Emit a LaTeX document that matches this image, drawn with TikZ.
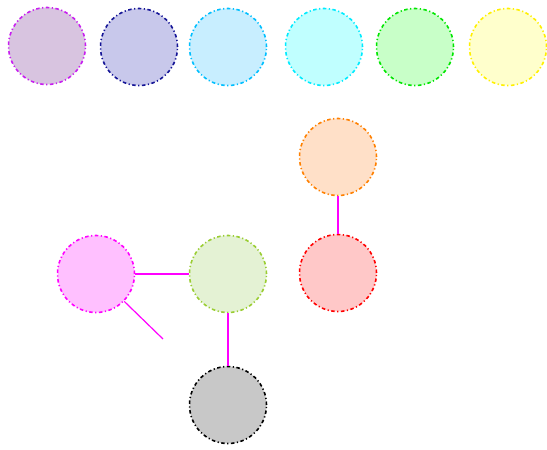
\documentclass[tikz,border=0pt]{standalone}
\definecolor{bA}{RGB}{200,30,240}\definecolor{fA}{RGB}{216,196,224}
\definecolor{bB}{RGB}{20,20,150}\definecolor{fB}{RGB}{200,200,235}
\definecolor{bC}{RGB}{0,191,255}\definecolor{fC}{RGB}{200,238,255}
\definecolor{bD}{RGB}{0,235,255}\definecolor{fD}{RGB}{192,255,255}
\definecolor{bE}{RGB}{0,230,0}\definecolor{fE}{RGB}{200,255,200}
\definecolor{bF}{RGB}{255,240,0}\definecolor{fF}{RGB}{255,255,204}
\definecolor{bG}{RGB}{255,0,255}\definecolor{fG}{RGB}{255,192,255}
\definecolor{bH}{RGB}{154,205,50}\definecolor{fH}{RGB}{228,242,212}
\definecolor{bI}{RGB}{0,0,0}\definecolor{fI}{RGB}{200,200,200}
\definecolor{bJ}{RGB}{255,128,0}\definecolor{fJ}{RGB}{255,224,200}
\definecolor{bK}{RGB}{255,0,0}\definecolor{fK}{RGB}{255,200,200}
\definecolor{edgec}{RGB}{255,0,255}
\tikzset{
  ball/.style={circle, minimum size=77pt, inner sep=0pt, line width=1.6pt,
    dash pattern=on 3.5pt off 2.5pt on 1.2pt off 2.5pt},
  link/.style={draw=edgec, line width=1.6pt}
}
\begin{document}
\begin{tikzpicture}[x=1pt,y=-1pt]
\useasboundingbox (0,0) rectangle (547,450);
\node[ball, draw=bA, fill=fA] (a) at (47,46) {};
\node[ball, draw=bB, fill=fB] (b) at (139,47) {};
\node[ball, draw=bC, fill=fC] (c) at (228,47) {};
\node[ball, draw=bD, fill=fD] (d) at (324,47) {};
\node[ball, draw=bE, fill=fE] (e) at (415,47) {};
\node[ball, draw=bF, fill=fF] (f) at (508,47) {};
\node[ball, draw=bJ, fill=fJ] (o) at (338,157) {};
\node[ball, draw=bK, fill=fK] (r) at (338,273) {};
\node[ball, draw=bG, fill=fG] (p) at (96,274) {};
\node[ball, draw=bH, fill=fH] (g) at (228,274) {};
\node[ball, draw=bI, fill=fI] (k) at (228,405) {};
\coordinate (free) at (163,339);
\draw[link] (o) -- (r);
\draw[link] (p) -- (g);
\draw[link] (g) -- (k);
\draw[link, line width=1.2pt] (p) -- (free);
\end{tikzpicture}
\end{document}
